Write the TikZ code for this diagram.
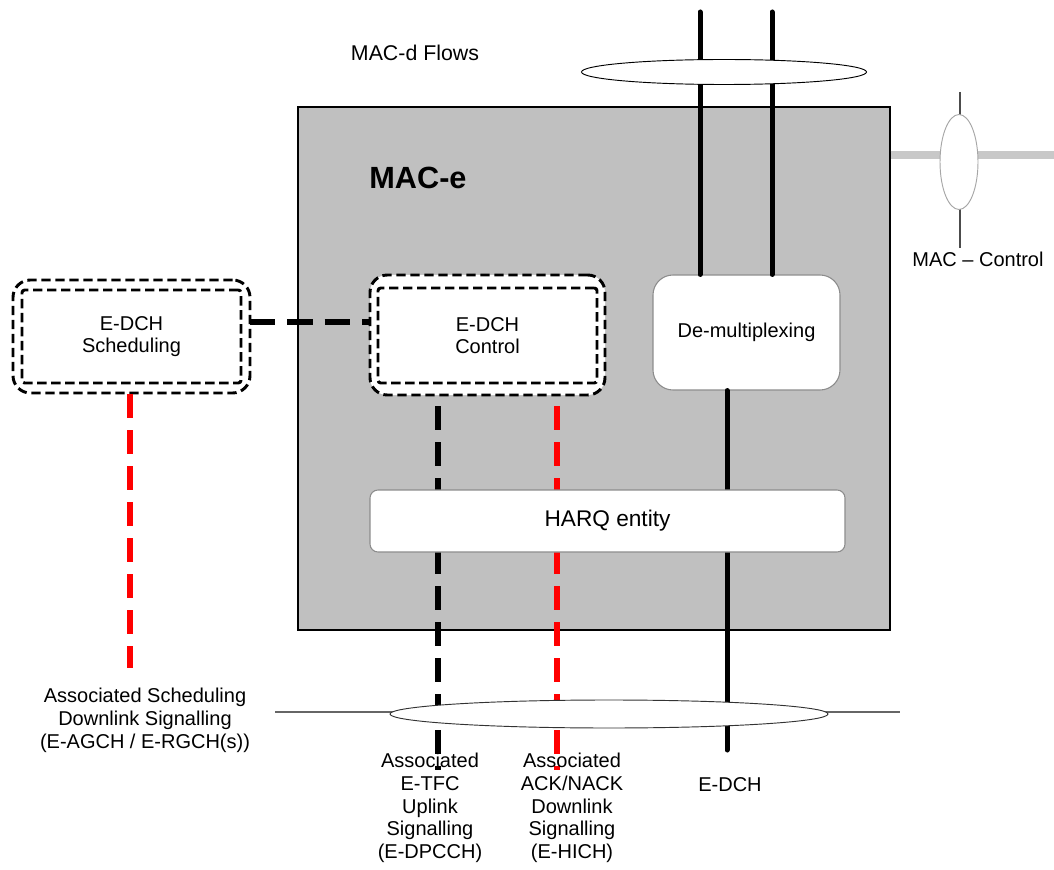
\documentclass[tikz,border=0pt]{standalone}
\usepackage{fontspec}
\setmainfont{Liberation Sans}
\usetikzlibrary{shapes.geometric, positioning}
\definecolor{macgray}{RGB}{192,192,192}
\definecolor{ctrlgray}{RGB}{200,200,200}
\definecolor{sigred}{RGB}{255,0,0}

\begin{document}
\begin{tikzpicture}[
  x=0.75pt, y=-0.75pt,
  lbl/.style      = {font=\fontsize{15}{17}\selectfont, align=center, inner sep=0pt},
  macbox/.style   = {draw, fill=macgray, line width=0.8pt},
  wbox/.style     = {draw=black!45, fill=white, line width=0.8pt},
  ctrlframe/.style= {draw, fill=white, rounded corners=13pt, line width=2.2pt,
                     dash pattern=on 7pt off 3.5pt},
  ctrlin/.style   = {draw, rounded corners=2pt, line width=2.2pt,
                     dash pattern=on 7pt off 3.5pt, lbl},
  flow/.style     = {line width=3.75pt, line cap=round},
  sig/.style      = {line width=4.5pt, dash pattern=on 18pt off 9pt},
  bundle/.style   = {draw, ellipse, fill=white, line width=0.7pt, inner sep=0pt},
]
  \useasboundingbox (0,0) rectangle (1054,870);

  % MAC-e entity
  \node[macbox, minimum width=444pt, minimum height=392.25pt] (mace) at (594,368.5) {};
  \node[font=\bfseries\fontsize{23}{26}\selectfont] (macelbl) at (418,178) {MAC-e};
  \node[lbl, font=\fontsize{16}{18}\selectfont] (flowlbl) at (415,53) {MAC-d Flows};

  % MAC control interface
  \coordinate (ctrlend) at (1054,155);
  \draw[ctrlgray, line width=6pt] (mace.east |- ctrlend) -- (ctrlend);
  \coordinate (ctrltop) at (960,92);
  \coordinate (ctrlbot) at (960,248);
  \draw[black!70, line width=0.8pt] (ctrltop) -- (ctrlbot);
  \node[bundle, draw=black!35, minimum width=28.5pt, minimum height=71.25pt] (ctrlring) at (959,162) {};
  \node[lbl, anchor=north] (ctrllbl) at (978,252) {MAC -- Control};

  % de-multiplexing and HARQ
  \node[wbox, rounded corners=15pt, minimum width=140.25pt, minimum height=86.25pt, lbl]
        (demux) at (746.5,332.5) {De-multiplexing};

  \coordinate (flowa) at (700,12);
  \coordinate (flowb) at (772,12);
  \draw[flow] (flowa) -- (flowa |- demux.north);
  \draw[flow] (flowb) -- (flowb |- demux.north);
  \node[bundle, minimum width=213.75pt, minimum height=18.75pt] (flowring) at (724,72) {};

  \coordinate (edchbot) at (727,750);
  \draw[flow] (edchbot |- demux.south) -- (edchbot);

  % scheduling and control
  \node[ctrlframe, minimum width=177.75pt, minimum height=84.75pt] (schedout) at (131.5,336.5) {};
  \node[ctrlin, minimum width=164.25pt, minimum height=69.75pt] (sched) at (131.5,336.5) {E-DCH\\Scheduling};
  \node[ctrlframe, minimum width=176.25pt, minimum height=90pt] (ctrlout) at (487.5,335) {};
  \node[ctrlin, minimum width=164.25pt, minimum height=71.25pt] (ctrl) at (487.5,335.5) {E-DCH\\Control};

  \coordinate (schedlink) at (250,322);
  \draw[sig, dash pattern=on 19pt off 9pt] (schedlink) -- (schedlink -| ctrlout.west);

  \coordinate (schedsig) at (130,668);
  \coordinate (tfcsig) at (438,770);
  \coordinate (acksig) at (557,770);
  \draw[sig, sigred] (schedsig |- schedout.south) -- (schedsig);
  \draw[sig] (tfcsig |- ctrlout.south) ++(0,10) -- (tfcsig);
  \draw[sig, sigred] (acksig |- ctrlout.south) ++(0,10) -- (acksig);

  \node[wbox, rounded corners=6pt, minimum width=356.25pt, minimum height=46.5pt,
        font=\fontsize{17}{20}\selectfont] (harq) at (607.5,521) {HARQ entity};

  % downlink / uplink bundle
  \coordinate (busl) at (275,712);
  \coordinate (busr) at (900,712);
  \draw[black!60, line width=1pt] (busl) -- (busr);
  \node[bundle, draw=black!80, minimum width=328.5pt, minimum height=21pt] (busring) at (609,714) {};

  % labels
  \node[lbl, anchor=north] (schedlbl) at (145,688)
        {Associated Scheduling\\Downlink Signalling\\(E-AGCH / E-RGCH(s))};
  \node[lbl, anchor=north] (tfclbl) at (430,753)
        {Associated\\E-TFC\\Uplink\\Signalling\\(E-DPCCH)};
  \node[lbl, anchor=north] (acklbl) at (572,753)
        {Associated\\ACK/NACK\\Downlink\\Signalling\\(E-HICH)};
  \node[lbl] (edchlbl) at (730,785) {E-DCH};
\end{tikzpicture}
\end{document}
